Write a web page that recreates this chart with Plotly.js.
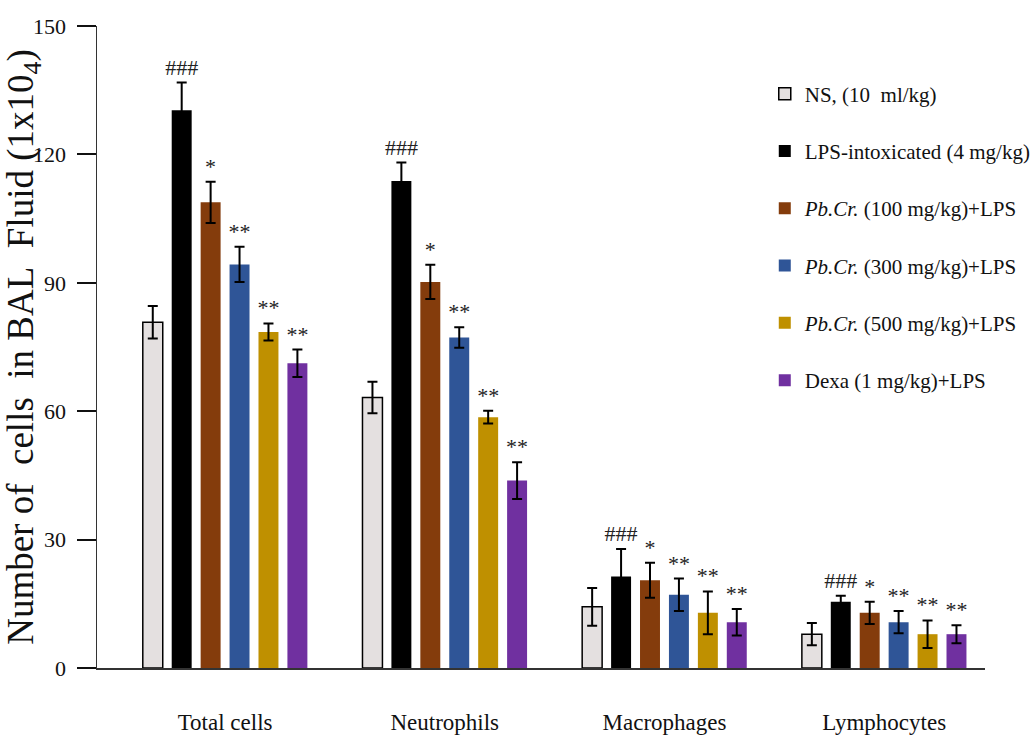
<!DOCTYPE html>
<html>
<head>
<meta charset="utf-8">
<script src="https://cdn.plot.ly/plotly-3.0.1.min.js"></script>
<style>html,body{margin:0;padding:0;background:#fff;}#chart{width:1035px;height:747px;}</style>
</head>
<body>
<div id="chart"></div>
<script>
// ---- data ----
var categories = ['Total cells', 'Neutrophils', 'Macrophages', 'Lymphocytes'];
var seriesNames = [
  'NS, (10\u00a0 ml/kg)',
  'LPS-intoxicated (4 mg/kg)',
  '<i>Pb.Cr.</i> (100 mg/kg)+LPS',
  '<i>Pb.Cr.</i> (300 mg/kg)+LPS',
  '<i>Pb.Cr.</i> (500 mg/kg)+LPS',
  'Dexa (1 mg/kg)+LPS'
];
var nsVals    = [80.8, 63.2, 14.3, 7.9];
var nsErr     = [3.8, 3.7, 4.4, 2.6];
var lpsVals   = [130.3, 113.8, 21.4, 15.5];
var lpsErr    = [6.5, 4.3, 6.4, 1.4];
var pb100Vals = [108.8, 90.2, 20.5, 12.9];
var pb100Err  = [4.8, 4.0, 4.1, 2.6];
var pb300Vals = [94.3, 77.2, 17.1, 10.7];
var pb300Err  = [4.1, 2.4, 3.8, 2.6];
var pb500Vals = [78.5, 58.6, 12.9, 7.9];
var pb500Err  = [2.0, 1.5, 5.0, 3.2];
var dexaVals  = [71.2, 43.8, 10.7, 7.9];
var dexaErr   = [3.2, 4.3, 3.1, 2.1];
var nsSig     = ['', '', '', ''];
var lpsSig    = ['###', '###', '###', '###'];
var pb100Sig  = ['*', '*', '*', '*'];
var pb300Sig  = ['**', '**', '**', '**'];
var pb500Sig  = ['**', '**', '**', '**'];
var dexaSig   = ['**', '**', '**', '**'];
var yTicks    = [0, 30, 60, 90, 120, 150];

// ---- styles ----
var serif = 'Liberation Serif, Times New Roman, serif';
var colors = ['#e4e0e0', '#000000', '#843c0c', '#2f5597', '#bf9000', '#7030a0'];
var lineColors = ['#000000', '#000000', 'rgba(0,0,0,0)', 'rgba(0,0,0,0)', 'rgba(0,0,0,0)', 'rgba(0,0,0,0)'];
var lineWidths = [1.5, 0, 0, 0, 0, 0];

var vals = [nsVals, lpsVals, pb100Vals, pb300Vals, pb500Vals, dexaVals];
var errs = [nsErr, lpsErr, pb100Err, pb300Err, pb500Err, dexaErr];
var sigs = [nsSig, lpsSig, pb100Sig, pb300Sig, pb500Sig, dexaSig];

var traces = [];
for (var i = 0; i < vals.length; i++) {
  traces.push({
    type: 'bar',
    name: seriesNames[i],
    x: categories,
    y: vals[i],
    offsetgroup: 'g' + i,
    legendgroup: 'g' + i,
    marker: {color: colors[i], line: {color: lineColors[i], width: lineWidths[i]}},
    error_y: {type: 'data', array: errs[i], visible: true, color: '#000', thickness: 2, width: 5},
    hoverinfo: 'y'
  });
}
for (var j = 0; j < vals.length; j++) {
  var hasText = sigs[j].some(function (s) { return s !== ''; });
  if (!hasText) continue;
  var tops = vals[j].map(function (v, k) { return v + errs[j][k]; });
  traces.push({
    type: 'bar',
    x: categories,
    y: tops,
    offsetgroup: 'g' + j,
    showlegend: false,
    marker: {color: 'rgba(0,0,0,0)'},
    text: sigs[j],
    textposition: 'outside',
    constraintext: 'none',
    cliponaxis: false,
    textfont: {family: serif, size: 22, color: '#222'},
    hoverinfo: 'skip'
  });
}

var layout = {
  width: 1035,
  height: 747,
  margin: {l: 97, r: 50, t: 26, b: 79, autoexpand: false},
  paper_bgcolor: '#fff',
  plot_bgcolor: '#fff',
  font: {family: serif, color: '#111'},
  barmode: 'group',
  bargap: 0.21,
  bargroupgap: 0.31,
  showlegend: true,
  legend: {
    x: 0.752, y: 0.926, xanchor: 'left', yanchor: 'top',
    font: {family: serif, size: 21, color: '#111'},
    tracegroupgap: 27,
    traceorder: 'grouped',
    bgcolor: 'rgba(0,0,0,0)'
  },
  xaxis: {
    type: 'category',
    range: [-0.583, 3.459],
    showline: true, linecolor: '#333', linewidth: 1.5,
    ticks: '', showgrid: false, zeroline: false,
    ticklabelstandoff: 33,
    tickfont: {family: serif, size: 23, color: '#111'}
  },
  yaxis: {
    range: [0, 150],
    tickvals: yTicks,
    ticktext: yTicks.map(String),
    showline: true, linecolor: '#333', linewidth: 1.5,
    ticks: 'outside', ticklen: 19, tickwidth: 2, tickcolor: '#111',
    showgrid: false, zeroline: false,
    ticklabelstandoff: 6,
    tickfont: {family: serif, size: 22, color: '#111'},
    title: {text: 'Number of\u00a0 cells\u00a0 in BAL\u00a0 Fluid (1x10<sub>4</sub>)', font: {family: serif, size: 37, color: '#111'}, standoff: 8}
  }
};

Plotly.newPlot('chart', traces, layout, {displayModeBar: false, staticPlot: true});
</script>
</body>
</html>
